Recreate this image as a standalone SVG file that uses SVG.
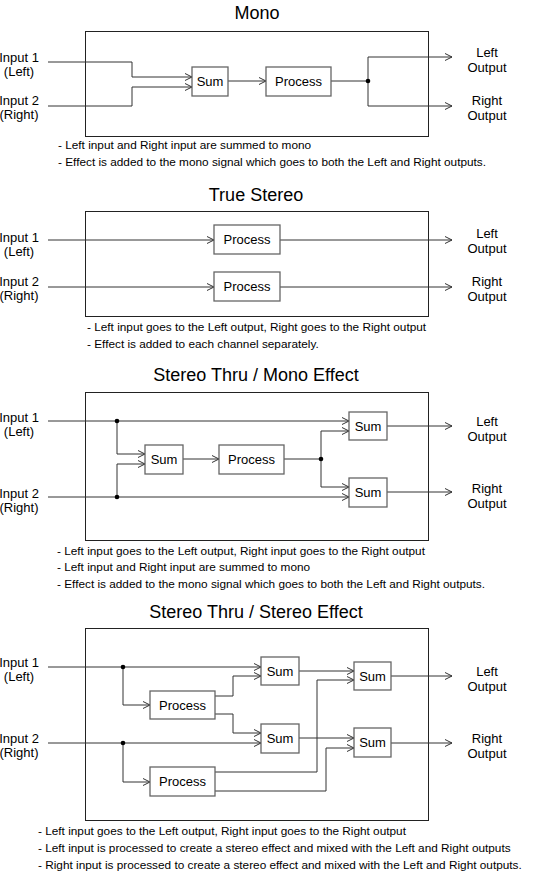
<svg xmlns="http://www.w3.org/2000/svg" width="540" height="872" viewBox="0 0 540 872">
<style>
  .bg{fill:#fff}
  .frame{fill:none;stroke:#222;stroke-width:1}
  .blk{fill:#fff;stroke:#666;stroke-width:1.3}
  .ln{fill:none;stroke:#333;stroke-width:1}
  .arr{marker-end:url(#ah)}
  .dot{fill:#000}
  .title{font-family:"Liberation Sans",Arial,sans-serif;font-size:18px;text-anchor:middle;fill:#000}
  .lbl{font-family:"Liberation Sans",Arial,sans-serif;font-size:13px;text-anchor:middle;fill:#000}
  .desc{font-family:"Liberation Sans",Arial,sans-serif;font-size:11.8px;fill:#000}
</style>
<defs>
  <marker id="ah" markerUnits="userSpaceOnUse" markerWidth="10" markerHeight="10" refX="7" refY="4" orient="auto" overflow="visible">
    <path d="M0,0.5 L7,4 L0,7.5" fill="none" stroke="#333" stroke-width="1"/>
  </marker>
</defs>
<rect class="bg" x="0" y="0" width="540" height="872"/>

<!-- ===== Mono ===== -->
<g id="mono">
  <text class="title" x="257" y="19">Mono</text>
  <rect class="frame" x="85.5" y="31.5" width="343" height="105"/>
  <g id="mono-connectors">
    <path class="ln arr" d="M48,62 H132 V77 H192"/>
    <path class="ln arr" d="M48,106 H132 V87 H192"/>
    <path class="ln arr" d="M228,81 H266"/>
    <path class="ln" d="M331,81 H368 M368,57 V106"/>
    <path class="ln arr" d="M368,57 H452"/>
    <path class="ln arr" d="M368,106 H452"/>
    <circle class="dot" cx="368" cy="81" r="2.3"/>
  </g>
  <g id="mono-sum"><rect class="blk" x="192" y="67" width="36" height="29"/><text class="lbl" x="210" y="86">Sum</text></g>
  <g id="mono-process"><rect class="blk" x="266" y="67" width="65" height="29"/><text class="lbl" x="298.5" y="86">Process</text></g>
  <g id="mono-in1"><text class="lbl" x="19" y="62">Input 1</text><text class="lbl" x="19" y="76">(Left)</text></g>
  <g id="mono-in2"><text class="lbl" x="19" y="105">Input 2</text><text class="lbl" x="19" y="119">(Right)</text></g>
  <g id="mono-outL"><text class="lbl" x="487" y="57">Left</text><text class="lbl" x="487" y="72">Output</text></g>
  <g id="mono-outR"><text class="lbl" x="487" y="105">Right</text><text class="lbl" x="487" y="120">Output</text></g>
  <text class="desc" x="58" y="149">- Left input and Right input are summed to mono</text>
  <text class="desc" x="58" y="166">- Effect is added to the mono signal which goes to both the Left and Right outputs.</text>
</g>

<!-- ===== True Stereo ===== -->
<g id="truestereo">
  <text class="title" x="256" y="201">True Stereo</text>
  <rect class="frame" x="85.5" y="211.5" width="343" height="105"/>
  <g id="ts-connectors">
    <path class="ln arr" d="M48,240 H214"/>
    <path class="ln arr" d="M280,240 H452"/>
    <path class="ln arr" d="M48,287 H214"/>
    <path class="ln arr" d="M280,287 H452"/>
  </g>
  <g id="ts-process1"><rect class="blk" x="214" y="225" width="66" height="29"/><text class="lbl" x="247" y="244">Process</text></g>
  <g id="ts-process2"><rect class="blk" x="214" y="272" width="66" height="29"/><text class="lbl" x="247" y="291">Process</text></g>
  <g id="ts-in1"><text class="lbl" x="19" y="242">Input 1</text><text class="lbl" x="19" y="256">(Left)</text></g>
  <g id="ts-in2"><text class="lbl" x="19" y="286">Input 2</text><text class="lbl" x="19" y="300">(Right)</text></g>
  <g id="ts-outL"><text class="lbl" x="487" y="238">Left</text><text class="lbl" x="487" y="253">Output</text></g>
  <g id="ts-outR"><text class="lbl" x="487" y="286">Right</text><text class="lbl" x="487" y="301">Output</text></g>
  <text class="desc" x="87" y="331">- Left input goes to the Left output, Right goes to the Right output</text>
  <text class="desc" x="87" y="348">- Effect is added to each channel separately.</text>
</g>

<!-- ===== Stereo Thru / Mono Effect ===== -->
<g id="thrumono">
  <text class="title" x="256" y="381">Stereo Thru / Mono Effect</text>
  <rect class="frame" x="85.5" y="392.5" width="343" height="148"/>
  <g id="tm-connectors">
    <path class="ln arr" d="M48,421 H349"/>
    <path class="ln arr" d="M117,421 V454 H145"/>
    <path class="ln arr" d="M48,497 H349"/>
    <path class="ln arr" d="M117,497 V464 H145"/>
    <path class="ln arr" d="M183,459 H219"/>
    <path class="ln" d="M284,459 H321 M321,431 V487"/>
    <path class="ln arr" d="M321,431 H349"/>
    <path class="ln arr" d="M321,487 H349"/>
    <path class="ln arr" d="M387,426 H452"/>
    <path class="ln arr" d="M387,492 H452"/>
    <circle class="dot" cx="117" cy="421" r="2.3"/>
    <circle class="dot" cx="117" cy="497" r="2.3"/>
    <circle class="dot" cx="321" cy="459" r="2.3"/>
  </g>
  <g id="tm-sum"><rect class="blk" x="145" y="445" width="38" height="29"/><text class="lbl" x="164" y="464">Sum</text></g>
  <g id="tm-process"><rect class="blk" x="219" y="445" width="65" height="29"/><text class="lbl" x="251.5" y="464">Process</text></g>
  <g id="tm-sumL"><rect class="blk" x="349" y="412" width="38" height="28"/><text class="lbl" x="368" y="430.5">Sum</text></g>
  <g id="tm-sumR"><rect class="blk" x="349" y="478" width="38" height="29"/><text class="lbl" x="368" y="497">Sum</text></g>
  <g id="tm-in1"><text class="lbl" x="19" y="422">Input 1</text><text class="lbl" x="19" y="436">(Left)</text></g>
  <g id="tm-in2"><text class="lbl" x="19" y="498">Input 2</text><text class="lbl" x="19" y="512">(Right)</text></g>
  <g id="tm-outL"><text class="lbl" x="487" y="426">Left</text><text class="lbl" x="487" y="441">Output</text></g>
  <g id="tm-outR"><text class="lbl" x="487" y="493">Right</text><text class="lbl" x="487" y="508">Output</text></g>
  <text class="desc" x="57" y="555">- Left input goes to the Left output, Right input goes to the Right output</text>
  <text class="desc" x="57" y="571">- Left input and Right input are summed to mono</text>
  <text class="desc" x="57" y="588">- Effect is added to the mono signal which goes to both the Left and Right outputs.</text>
</g>

<!-- ===== Stereo Thru / Stereo Effect ===== -->
<g id="thrustereo">
  <text class="title" x="256" y="618">Stereo Thru / Stereo Effect</text>
  <rect class="frame" x="85.5" y="628.5" width="343" height="192"/>
  <g id="tst-connectors">
    <path class="ln arr" d="M48,667 H261"/>
    <path class="ln arr" d="M123,667 V705 H150"/>
    <path class="ln arr" d="M215,696 H233 V676 H261"/>
    <path class="ln arr" d="M215,714 H233 V733 H261"/>
    <path class="ln arr" d="M48,743 H261"/>
    <path class="ln arr" d="M123,743 V782 H150"/>
    <path class="ln arr" d="M215,772 H317 V680 H354"/>
    <path class="ln arr" d="M215,791 H326 V748 H354"/>
    <path class="ln arr" d="M299,671 H354"/>
    <path class="ln arr" d="M299,738 H354"/>
    <path class="ln arr" d="M391,676 H452"/>
    <path class="ln arr" d="M391,743 H452"/>
    <circle class="dot" cx="123" cy="667" r="2.3"/>
    <circle class="dot" cx="123" cy="743" r="2.3"/>
  </g>
  <g id="tst-procA"><rect class="blk" x="150" y="691" width="65" height="28"/><text class="lbl" x="182.5" y="709.5">Process</text></g>
  <g id="tst-procB"><rect class="blk" x="150" y="767" width="65" height="29"/><text class="lbl" x="182.5" y="786">Process</text></g>
  <g id="tst-sumA"><rect class="blk" x="261" y="657" width="38" height="28"/><text class="lbl" x="280" y="675.5">Sum</text></g>
  <g id="tst-sumB"><rect class="blk" x="261" y="724" width="38" height="29"/><text class="lbl" x="280" y="743">Sum</text></g>
  <g id="tst-sumC"><rect class="blk" x="354" y="662" width="37" height="28"/><text class="lbl" x="372.5" y="680.5">Sum</text></g>
  <g id="tst-sumD"><rect class="blk" x="354" y="728" width="37" height="29"/><text class="lbl" x="372.5" y="747">Sum</text></g>
  <g id="tst-in1"><text class="lbl" x="19" y="667">Input 1</text><text class="lbl" x="19" y="681">(Left)</text></g>
  <g id="tst-in2"><text class="lbl" x="19" y="743">Input 2</text><text class="lbl" x="19" y="757">(Right)</text></g>
  <g id="tst-outL"><text class="lbl" x="487" y="676">Left</text><text class="lbl" x="487" y="691">Output</text></g>
  <g id="tst-outR"><text class="lbl" x="487" y="743">Right</text><text class="lbl" x="487" y="758">Output</text></g>
  <text class="desc" x="38" y="835">- Left input goes to the Left output, Right input goes to the Right output</text>
  <text class="desc" x="38" y="852">- Left input is processed to create a stereo effect and mixed with the Left and Right outputs</text>
  <text class="desc" x="38" y="869">- Right input is processed to create a stereo effect and mixed with the Left and Right outputs.</text>
</g>
</svg>
